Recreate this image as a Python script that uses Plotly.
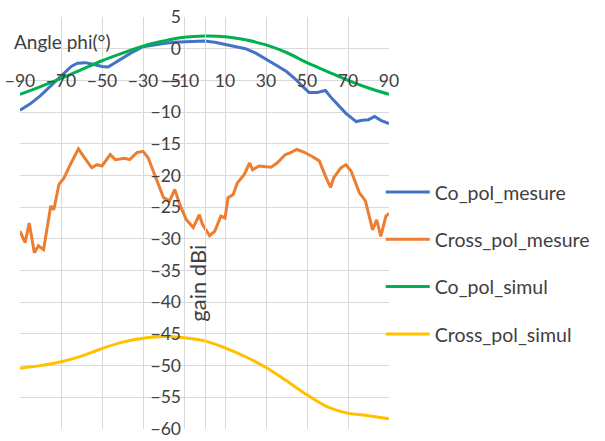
import plotly.graph_objects as go

# ---- data ----
co_mes_phi = [-90, -85, -80, -75, -70, -65, -62, -58, -54, -50, -47, -43, -40, -36, -30, -25, -20, -15, -10, -5, 0,
              5, 10, 15, 20, 25, 30, 35, 40, 45, 48, 51, 55, 59, 62, 66, 69, 72, 74, 77, 80, 83, 86, 90]
co_mes_val = [-9.7, -8.7, -7.4, -5.9, -4.4, -2.8, -2.3, -2.2, -2.5, -2.8, -2.9, -2.1, -1.4, -0.7, 0.3, 0.6, 0.8, 1.0, 1.1, 1.2, 1.2,
              1.0, 0.7, 0.4, 0.0, -0.7, -1.6, -2.6, -3.6, -5.0, -6.0, -6.9, -6.9, -6.6, -7.8, -9.2, -10.2, -11.0, -11.5, -11.3, -11.2, -10.7, -11.3, -11.8]

cross_mes_phi = [-90, -87.5, -85.5, -83, -81, -78.5, -75, -73.5, -71, -68.5, -65.5, -61.5, -59, -55, -52.5, -50, -46, -43.5,
                 -39, -36.5, -33, -30, -27.5, -23.5, -20, -17, -14.5, -12, -9, -5.5, -2.5, -1, 2.5, 5, 8, 10, 11.5, 14, 16,
                 19.5, 22, 23.5, 26.5, 32.5, 35.5, 39.5, 42, 45, 48.5, 52.5, 56, 59, 61.5, 63, 66.5, 69, 71.5, 75.5, 78.5,
                 82, 84, 86, 88.5, 90]
cross_mes_val = [-28.8, -30.6, -27.5, -32.2, -31.1, -31.7, -24.8, -25.4, -21.4, -20.4, -18.3, -15.8, -17.0, -18.8, -18.3, -18.5,
                 -16.7, -17.5, -17.3, -17.5, -16.4, -16.2, -17.2, -20.4, -23.5, -24.0, -22.2, -24.6, -26.9, -28.2, -26.2, -27.7,
                 -29.5, -28.8, -26.4, -26.7, -23.5, -23.0, -21.2, -19.8, -18.0, -19.1, -18.5, -18.7, -18.0, -16.7, -16.4, -15.9,
                 -16.3, -17.0, -17.7, -20.1, -21.9, -20.4, -18.8, -18.3, -19.3, -22.7, -24.0, -28.6, -27.0, -29.6, -26.4, -26.0]

sim_phi = [-90, -80, -70, -60, -50, -40, -30, -20, -10, 0, 10, 20, 30, 40, 50, 60, 70, 80, 90]
co_sim_val = [-7.2, -6.0, -4.7, -3.3, -1.9, -0.7, 0.4, 1.2, 1.8, 2.0, 1.9, 1.4, 0.6, -0.6, -2.2, -3.6, -5.0, -6.2, -7.2]
cross_sim_val = [-50.4, -50.0, -49.4, -48.5, -47.3, -46.3, -45.7, -45.4, -45.6, -46.1, -47.2, -48.6, -50.3, -52.4, -54.6,
                 -56.5, -57.5, -57.9, -58.4]

names = ["Co_pol_mesure", "Cross_pol_mesure", "Co_pol_simul", "Cross_pol_simul"]
colors = ["#4472C4", "#ED7D31", "#00B050", "#FFC000"]
y_ticks = list(range(-60, 6, 5))
x_ticks = list(range(-90, 91, 20))

FONT = "Lato"
TXT = "#404040"
GRID = "#D9D9D9"

fig = go.Figure()
series = [(co_mes_phi, co_mes_val, "linear"), (cross_mes_phi, cross_mes_val, "linear"),
          (sim_phi, co_sim_val, "spline"), (sim_phi, cross_sim_val, "spline")]
for (xs, ys, shp), nm, col in zip(series, names, colors):
    fig.add_trace(go.Scatter(x=xs, y=ys, mode="lines", name=nm, legendgroup=nm,
                             line=dict(color=col, width=3, shape=shp)))

fig.update_layout(
    template="none",
    width=605, height=441,
    margin=dict(l=19.5, r=215, t=16.5, b=11.5),
    paper_bgcolor="white", plot_bgcolor="white",
    font=dict(family=FONT, size=17, color=TXT),
    showlegend=True,
    legend=dict(x=0.975, y=0.622, xanchor="left", yanchor="top",
                font=dict(family=FONT, size=19.5, color=TXT), itemwidth=44,
                tracegroupgap=19, bgcolor="rgba(0,0,0,0)"),
    xaxis=dict(range=[-90, 90], tickvals=x_ticks, showgrid=True, gridcolor=GRID, gridwidth=1,
               zeroline=False, showline=False, anchor="free", position=(0 - (-60)) / 65,
               ticks="", ticklabelstandoff=20, tickfont=dict(family=FONT, size=17.5, color=TXT),
               automargin=False),
    yaxis=dict(range=[-60, 5], tickvals=y_ticks, showgrid=True, gridcolor=GRID, gridwidth=1,
               zeroline=False, showline=True, linecolor=GRID, linewidth=1,
               anchor="free", position=0.5, ticks="", ticklabelstandoff=20,
               tickfont=dict(family=FONT, size=17.5, color=TXT), automargin=False),
    annotations=[
        dict(text="Angle phi(°)", xref="paper", yref="paper", x=-0.023, y=0.94,
             xanchor="left", yanchor="middle", showarrow=False,
             font=dict(family=FONT, size=19, color=TXT)),
        dict(text="gain dBi", xref="x", yref="y", x=0, y=-37, xshift=-7, textangle=-90,
             xanchor="center", yanchor="middle", showarrow=False,
             font=dict(family=FONT, size=22, color=TXT)),
    ],
)

fig.write_html("out.html")
